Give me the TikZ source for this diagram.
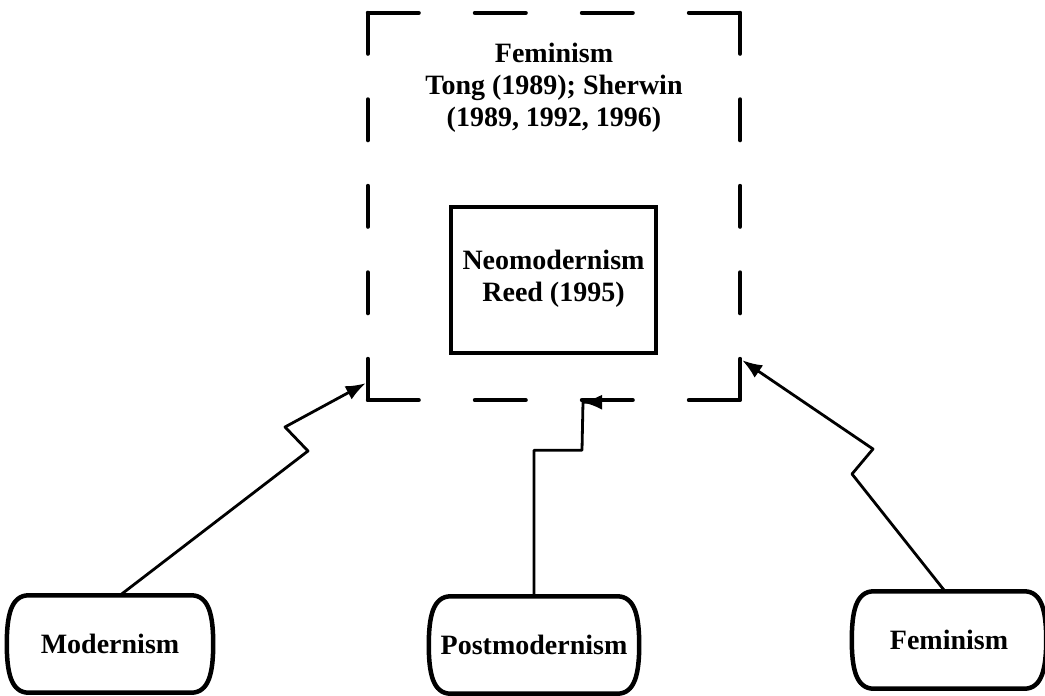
\documentclass[tikz,border=0pt]{standalone}
\usepackage{fontspec}
\setmainfont{Liberation Serif}
\usetikzlibrary{arrows.meta}

\begin{document}
\begin{tikzpicture}[x=1pt,y=-1pt,
theory/.style={inner sep=0pt,
  minimum height=97pt,
  align=center,
  font=\fontsize{28}{32}\selectfont\bfseries
},
barrel/.style={line width=4.5pt,line join=round},
frameline/.style={line width=4pt,line cap=round},
link/.style={line width=2.8pt,line join=round,-{Latex[length=20pt,width=15pt]}}]

\useasboundingbox (0,0) rectangle (1045,696);

\node (frame) [minimum width=372pt,minimum height=387pt,inner sep=0pt] at (554,206.5) {};
\node (femlabel) [theory,minimum height=0pt] at (554,88) {Feminism\\Tong (1989); Sherwin\\(1989, 1992, 1996)};
\node (neo) [theory,draw,line width=4pt,minimum width=205pt,minimum height=146pt,text depth=8pt] at (553.5,280) {Neomodernism\\Reed (1995)};

\node (mod) [theory,minimum width=206pt] at (110,644) {Modernism};
\node (post) [theory,minimum width=210pt] at (534,645) {Postmodernism};
\node (fem) [theory,minimum width=194pt] at (949,640) {Feminism};

% dashed frame, one side at a time
\draw [frameline,dash pattern=on 51pt off 56pt] (frame.north west) -- (frame.north east)
  (frame.south west) -- (frame.south east);
\draw [frameline,dash pattern=on 41pt off 45.5pt] (frame.north west) -- (frame.south west)
  (frame.north east) -- (frame.south east);

\foreach \n in {mod,post,fem}
  \draw [barrel] ([xshift=22pt]\n.north west) -- ([xshift=-22pt]\n.north east)
    .. controls ([xshift=-4pt]\n.north east) and ([yshift=28pt]\n.east) .. (\n.east)
    .. controls ([yshift=-28pt]\n.east) and ([xshift=-4pt]\n.south east) .. ([xshift=-22pt]\n.south east)
    -- ([xshift=22pt]\n.south west)
    .. controls ([xshift=4pt]\n.south west) and ([yshift=-28pt]\n.west) .. (\n.west)
    .. controls ([yshift=28pt]\n.west) and ([xshift=4pt]\n.north west) .. ([xshift=22pt]\n.north west) -- cycle;

\draw [link] ([xshift=10pt]mod.north) -- (308,451) -- (285,427) -- ([xshift=-2pt,yshift=17pt]frame.south west);
\draw [link] (post.north) |- ([xshift=28pt,yshift=-50pt]frame.south)
  -- ([xshift=29pt,yshift=-2pt]frame.south) -- ([xshift=28pt,yshift=-2pt]frame.south);
\draw [link] ([xshift=-4pt]fem.north) -- (852,474) -- (873,449) -- ([xshift=2pt,yshift=40pt]frame.south east);

\end{tikzpicture}
\end{document}
